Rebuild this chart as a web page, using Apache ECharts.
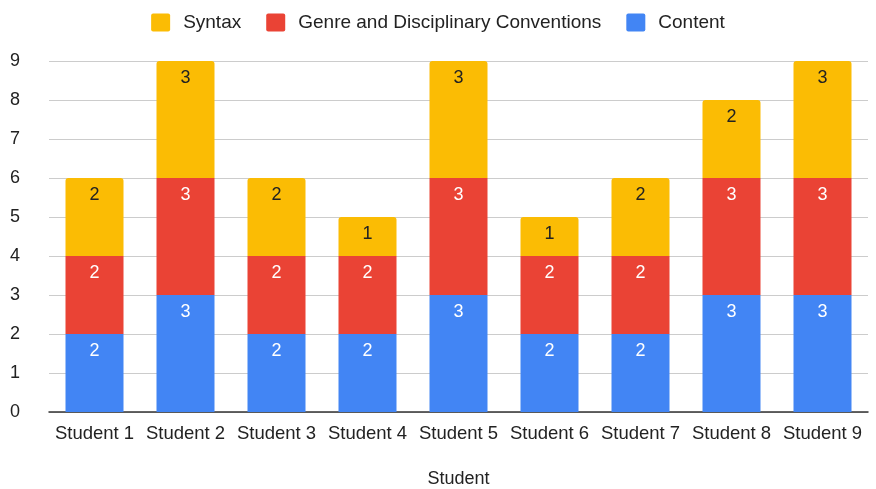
<!DOCTYPE html>
<html>
<head>
<meta charset="utf-8">
<script src="https://cdn.jsdelivr.net/npm/echarts@6/dist/echarts.min.js"></script>
<style>
  html, body { margin: 0; padding: 0; background: #fff; }
  #chart { width: 876px; height: 489px; }
</style>
</head>
<body>
<div id="chart"></div>
<script>
const students = ['Student 1', 'Student 2', 'Student 3', 'Student 4', 'Student 5', 'Student 6', 'Student 7', 'Student 8', 'Student 9']
const content = [2, 3, 2, 2, 3, 2, 2, 3, 3]
const genre = [2, 3, 2, 2, 3, 2, 2, 3, 3]
const syntax = [2, 3, 2, 1, 3, 1, 2, 2, 3]

const font = 'Liberation Sans, Arial, sans-serif'

function makeSeries(name, data, color, labelColor, top) {
  return {
    name: name,
    type: 'bar',
    stack: 'total',
    barWidth: 58,
    data: data,
    itemStyle: {
      color: color,
      borderRadius: top ? [3, 3, 0, 0] : 0
    },
    label: {
      show: true,
      position: 'insideTop',
      distance: 8,
      color: labelColor,
      fontFamily: font,
      fontSize: 18
    }
  }
}

const chart = echarts.init(document.getElementById('chart'))
chart.setOption({
  animation: false,
  textStyle: { fontFamily: font },
  legend: {
    top: 8,
    left: 'center',
    itemWidth: 19,
    itemHeight: 18,
    itemGap: 25,
    data: ['Syntax', 'Genre and Disciplinary Conventions', 'Content'],
    icon: 'path://M2,0 L17,0 Q19,0 19,2 L19,16 Q19,18 17,18 L2,18 Q0,18 0,16 L0,2 Q0,0 2,0 Z',
    textStyle: { fontSize: 19, color: '#222', fontFamily: font, padding: [0, 0, 0, 8] }
  },
  grid: {
    left: 49,
    right: 8,
    top: 61,
    bottom: 77,
    outerBoundsMode: 'none',
    containLabel: false
  },
  xAxis: {
    type: 'category',
    data: students,
    name: 'Student',
    nameLocation: 'middle',
    nameGap: 58,
    nameTextStyle: { fontSize: 18, color: '#222', fontFamily: font },
    axisTick: { show: false },
    axisLine: { lineStyle: { color: '#333', width: 1.5 } },
    axisLabel: { fontSize: 18.5, color: '#222', margin: 12, fontFamily: font, interval: 0 }
  },
  yAxis: {
    type: 'value',
    min: 0,
    max: 9,
    interval: 1,
    axisLine: { show: false },
    axisTick: { show: false },
    axisLabel: { fontSize: 18, color: '#222', margin: 29, fontFamily: font },
    splitLine: { lineStyle: { color: '#ccc', width: 1 } }
  },
  series: [
    makeSeries('Content', content, '#4285F4', '#fff', false),
    makeSeries('Genre and Disciplinary Conventions', genre, '#EA4335', '#fff', false),
    makeSeries('Syntax', syntax, '#FBBC04', '#222', true)
  ]
})
</script>
</body>
</html>
